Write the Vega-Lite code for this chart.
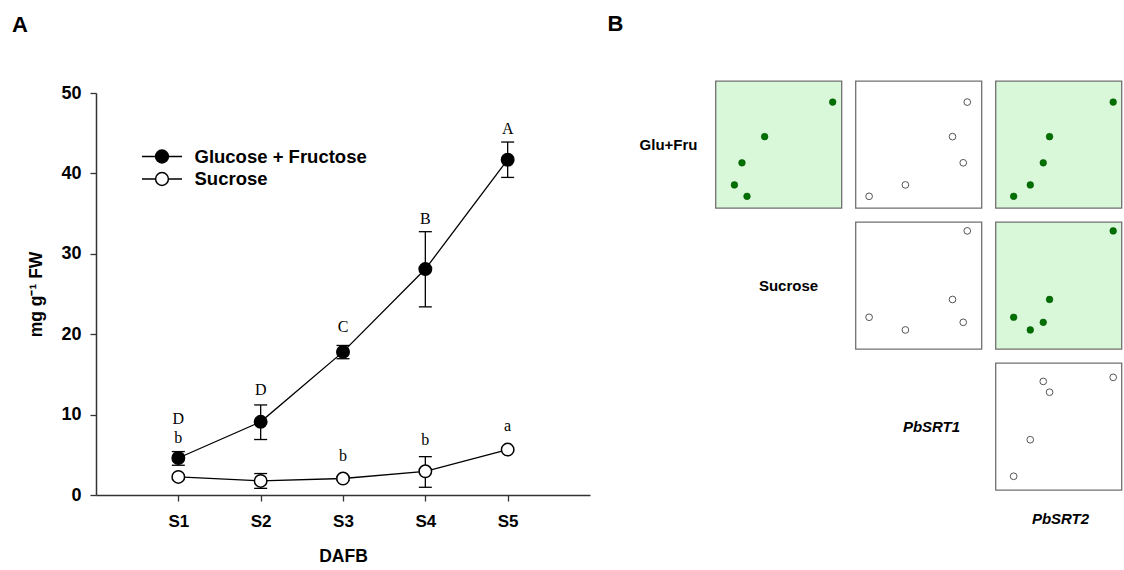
{
  "$schema": "https://vega.github.io/schema/vega-lite/v6.json",
  "background": "white",
  "padding": {"left": 12, "top": 13, "right": 0, "bottom": 0},
  "config": {
    "view": {"stroke": null},
    "font": "Liberation Sans",
    "axis": {
      "grid": false, "domainColor": "#333", "domainWidth": 1.5, "tickColor": "#333", "tickWidth": 1.3, "tickSize": 6,
      "labelFont": "Liberation Sans", "labelFontWeight": "bold", "labelColor": "black",
      "titleFont": "Liberation Sans", "titleFontWeight": "bold", "titleColor": "black", "titleFontSize": 17.5
    },
    "legend": {"padding": 0}
  },
  "datasets": {
    "sugar": [
      {"stage": 1, "series": "Glucose + Fructose", "mean": 4.6, "lo": 3.7, "hi": 5.4},
      {"stage": 2, "series": "Glucose + Fructose", "mean": 9.1, "lo": 6.9, "hi": 11.2},
      {"stage": 3, "series": "Glucose + Fructose", "mean": 17.8, "lo": 16.95, "hi": 18.6},
      {"stage": 4, "series": "Glucose + Fructose", "mean": 28.1, "lo": 23.4, "hi": 32.75},
      {"stage": 5, "series": "Glucose + Fructose", "mean": 41.7, "lo": 39.5, "hi": 43.9},
      {"stage": 1, "series": "Sucrose", "mean": 2.25, "lo": 2.0, "hi": 2.5},
      {"stage": 2, "series": "Sucrose", "mean": 1.75, "lo": 0.83, "hi": 2.67},
      {"stage": 3, "series": "Sucrose", "mean": 2.05, "lo": 1.8, "hi": 2.3},
      {"stage": 4, "series": "Sucrose", "mean": 2.95, "lo": 0.96, "hi": 4.77},
      {"stage": 5, "series": "Sucrose", "mean": 5.65, "lo": 5.4, "hi": 5.9}
    ],
    "letters": [
      {"stage": 1, "letter": "D", "ly": 9.5},
      {"stage": 2, "letter": "D", "ly": 13.05},
      {"stage": 3, "letter": "C", "ly": 20.85},
      {"stage": 4, "letter": "B", "ly": 34.3},
      {"stage": 5, "letter": "A", "ly": 45.5},
      {"stage": 1, "letter": "b", "ly": 7.05},
      {"stage": 3, "letter": "b", "ly": 4.9},
      {"stage": 4, "letter": "b", "ly": 6.9},
      {"stage": 5, "letter": "a", "ly": 8.6}
    ],
    "matrix": [
      {"stage": "S1", "glu": 4.6, "suc": 2.25, "srt1": 1.08, "srt2": 1.44},
      {"stage": "S2", "glu": 9.1, "suc": 1.75, "srt1": 3.96, "srt2": 2.76},
      {"stage": "S3", "glu": 17.8, "suc": 2.05, "srt1": 8.55, "srt2": 3.79},
      {"stage": "S4", "glu": 28.1, "suc": 2.95, "srt1": 7.70, "srt2": 4.29},
      {"stage": "S5", "glu": 41.7, "suc": 5.65, "srt1": 8.87, "srt2": 9.34}
    ]
  },
  "spacing": 17.5,
  "hconcat": [
    {
      "title": {"text": "A", "anchor": "start", "frame": "group", "dx": -84, "offset": 44, "fontSize": 22, "fontWeight": "bold", "color": "black", "font": "Liberation Sans"},
      "spacing": 11,
      "bounds": "flush",
      "vconcat": [
        {"width": 494, "height": 1, "mark": {"type": "text", "text": ""}, "encoding": {}},
        {
          "width": 494,
          "height": 402,
          "layer": [
            {
              "data": {"name": "sugar"},
              "mark": {"type": "line", "color": "black", "strokeWidth": 1.3},
              "encoding": {
                "x": {"field": "stage", "type": "quantitative", "scale": {"domain": [0, 6], "nice": false},
                      "axis": {"values": [1, 2, 3, 4, 5], "labelExpr": "'S' + datum.value", "title": "DAFB", "labelFontSize": 17, "labelPadding": 12, "titlePadding": 18}},
                "y": {"field": "mean", "type": "quantitative", "scale": {"domain": [0, 50], "nice": false},
                      "axis": {"values": [0, 10, 20, 30, 40, 50], "title": "mg g⁻¹ FW", "labelFontSize": 18, "labelPadding": 9, "titlePadding": 15}},
                "detail": {"field": "series"}
              }
            },
            {
              "data": {"name": "sugar"},
              "mark": {"type": "rule", "color": "black", "strokeWidth": 1.3},
              "encoding": {
                "x": {"field": "stage", "type": "quantitative", "title": "DAFB"},
                "y": {"field": "lo", "type": "quantitative", "title": "mg g⁻¹ FW"},
                "y2": {"field": "hi"}
              }
            },
            {
              "data": {"name": "sugar"},
              "mark": {"type": "tick", "orient": "horizontal", "color": "black", "size": 13, "thickness": 1.3, "opacity": 1},
              "encoding": {
                "x": {"field": "stage", "type": "quantitative", "title": "DAFB"},
                "y": {"field": "lo", "type": "quantitative", "title": "mg g⁻¹ FW"}
              }
            },
            {
              "data": {"name": "sugar"},
              "mark": {"type": "tick", "orient": "horizontal", "color": "black", "size": 13, "thickness": 1.3, "opacity": 1},
              "encoding": {
                "x": {"field": "stage", "type": "quantitative", "title": "DAFB"},
                "y": {"field": "hi", "type": "quantitative", "title": "mg g⁻¹ FW"}
              }
            },
            {
              "data": {"name": "sugar"},
              "mark": {"type": "circle", "size": 155, "stroke": "black", "strokeWidth": 1.5, "opacity": 1},
              "encoding": {
                "x": {"field": "stage", "type": "quantitative", "title": "DAFB"},
                "y": {"field": "mean", "type": "quantitative", "title": "mg g⁻¹ FW"},
                "fill": {"field": "series", "type": "nominal",
                         "scale": {"domain": ["Glucose + Fructose", "Sucrose"], "range": ["black", "white"]},
                         "legend": {"title": null, "orient": "none", "legendX": 55, "legendY": 64.5,
                                    "symbolType": "M-2,0L-0.64,0M0.64,0L2,0M0.64,0A0.64,0.64,0,1,1,-0.64,0A0.64,0.64,0,1,1,0.64,0Z",
                                    "symbolSize": 400, "symbolStrokeColor": "black", "symbolStrokeWidth": 1.5, "symbolOpacity": 1,
                                    "labelFont": "Liberation Sans", "labelFontWeight": "bold", "labelFontSize": 18.5, "labelColor": "black",
                                    "labelOffset": 21.5, "labelLimit": 400, "rowPadding": 1.5}}
              }
            },
            {
              "data": {"name": "letters"},
              "mark": {"type": "text", "font": "Liberation Serif", "fontSize": 16, "baseline": "middle", "color": "black"},
              "encoding": {
                "x": {"field": "stage", "type": "quantitative", "title": "DAFB"},
                "y": {"field": "ly", "type": "quantitative", "title": "mg g⁻¹ FW"},
                "text": {"field": "letter"}
              }
            }
          ]
        }
      ]
    },
    {
      "title": {"text": "B", "anchor": "start", "dx": -28, "offset": 44, "fontSize": 22, "fontWeight": "bold", "color": "black", "font": "Liberation Sans"},
      "columns": 4,
      "spacing": 14,
      "align": "each",
      "bounds": "flush",
      "concat": [
        {"width": 66, "height": 127, "data": {"values": [{"label": "Glu+Fru"}]}, "mark": {"type": "text", "fontSize": 15, "fontWeight": "bold", "color": "black"}, "encoding": {"text": {"field": "label"}}},
        {"width": 126, "height": 127, "data": {"name": "matrix"}, "view": {"fill": "#d9f7d9", "stroke": "#707070", "strokeWidth": 1.3},
         "mark": {"type": "circle", "size": 45, "fill": "#007000", "stroke": "#005000", "strokeWidth": 0.5, "opacity": 1},
         "encoding": {"x": {"field": "suc", "type": "quantitative", "scale": {"domain": [1, 6], "nice": false, "zero": false}, "axis": null},
                      "y": {"field": "glu", "type": "quantitative", "scale": {"domain": [0, 50], "nice": false}, "axis": null}}},
        {"width": 126, "height": 127, "data": {"name": "matrix"}, "view": {"fill": "white", "stroke": "#707070", "strokeWidth": 1.3},
         "mark": {"type": "circle", "size": 45, "fill": "white", "stroke": "#555", "strokeWidth": 1, "opacity": 1},
         "encoding": {"x": {"field": "srt1", "type": "quantitative", "scale": {"domain": [0, 10], "nice": false}, "axis": null},
                      "y": {"field": "glu", "type": "quantitative", "scale": {"domain": [0, 50], "nice": false}, "axis": null}}},
        {"width": 126, "height": 127, "data": {"name": "matrix"}, "view": {"fill": "#d9f7d9", "stroke": "#707070", "strokeWidth": 1.3},
         "mark": {"type": "circle", "size": 45, "fill": "#007000", "stroke": "#005000", "strokeWidth": 0.5, "opacity": 1},
         "encoding": {"x": {"field": "srt2", "type": "quantitative", "scale": {"domain": [0, 10], "nice": false}, "axis": null},
                      "y": {"field": "glu", "type": "quantitative", "scale": {"domain": [0, 50], "nice": false}, "axis": null}}},

        {"width": 66, "height": 127, "mark": {"type": "text", "text": ""}, "encoding": {}},
        {"width": 126, "height": 127, "data": {"values": [{"label": "Sucrose"}]}, "mark": {"type": "text", "fontSize": 15, "fontWeight": "bold", "color": "black", "dx": 10}, "encoding": {"text": {"field": "label"}}},
        {"width": 126, "height": 127, "data": {"name": "matrix"}, "view": {"fill": "white", "stroke": "#707070", "strokeWidth": 1.3},
         "mark": {"type": "circle", "size": 45, "fill": "white", "stroke": "#555", "strokeWidth": 1, "opacity": 1},
         "encoding": {"x": {"field": "srt1", "type": "quantitative", "scale": {"domain": [0, 10], "nice": false}, "axis": null},
                      "y": {"field": "suc", "type": "quantitative", "scale": {"domain": [1, 6], "nice": false, "zero": false}, "axis": null}}},
        {"width": 126, "height": 127, "data": {"name": "matrix"}, "view": {"fill": "#d9f7d9", "stroke": "#707070", "strokeWidth": 1.3},
         "mark": {"type": "circle", "size": 45, "fill": "#007000", "stroke": "#005000", "strokeWidth": 0.5, "opacity": 1},
         "encoding": {"x": {"field": "srt2", "type": "quantitative", "scale": {"domain": [0, 10], "nice": false}, "axis": null},
                      "y": {"field": "suc", "type": "quantitative", "scale": {"domain": [1, 6], "nice": false, "zero": false}, "axis": null}}},

        {"width": 66, "height": 127, "mark": {"type": "text", "text": ""}, "encoding": {}},
        {"width": 126, "height": 127, "mark": {"type": "text", "text": ""}, "encoding": {}},
        {"width": 126, "height": 127, "data": {"values": [{"label": "PbSRT1"}]}, "mark": {"type": "text", "fontSize": 15, "fontWeight": "bold", "fontStyle": "italic", "color": "black", "dx": 13}, "encoding": {"text": {"field": "label"}}},
        {"width": 126, "height": 127, "data": {"name": "matrix"}, "view": {"fill": "white", "stroke": "#707070", "strokeWidth": 1.3},
         "mark": {"type": "circle", "size": 45, "fill": "white", "stroke": "#555", "strokeWidth": 1, "opacity": 1},
         "encoding": {"x": {"field": "srt2", "type": "quantitative", "scale": {"domain": [0, 10], "nice": false}, "axis": null},
                      "y": {"field": "srt1", "type": "quantitative", "scale": {"domain": [0, 10], "nice": false}, "axis": null}}},

        {"width": 66, "height": 30, "mark": {"type": "text", "text": ""}, "encoding": {}},
        {"width": 126, "height": 30, "mark": {"type": "text", "text": ""}, "encoding": {}},
        {"width": 126, "height": 30, "mark": {"type": "text", "text": ""}, "encoding": {}},
        {"width": 126, "height": 30, "data": {"values": [{"label": "PbSRT2"}]}, "mark": {"type": "text", "fontSize": 15, "fontWeight": "bold", "fontStyle": "italic", "color": "black", "dx": 2}, "encoding": {"text": {"field": "label"}}}
      ]
    }
  ]
}
